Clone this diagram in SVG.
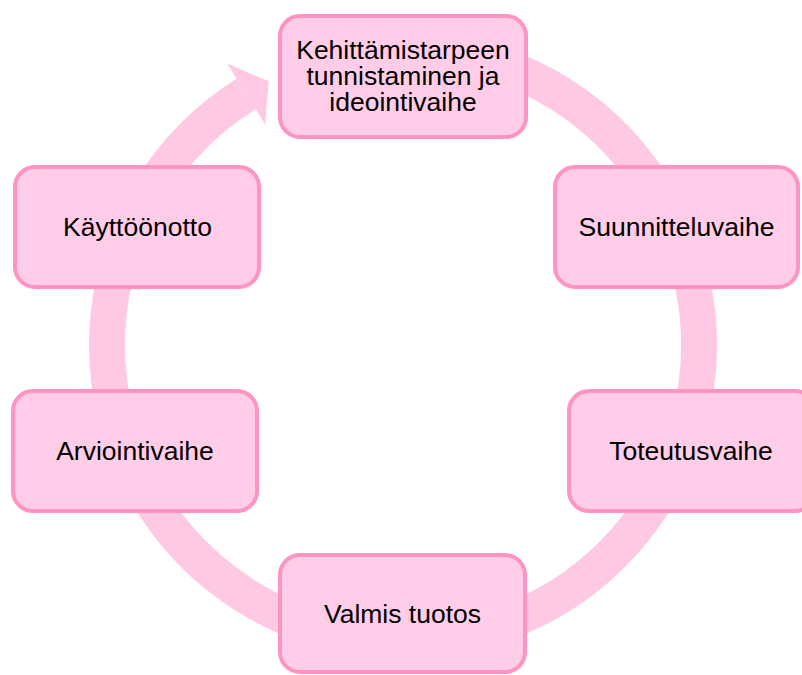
<svg xmlns="http://www.w3.org/2000/svg" width="802" height="675" viewBox="0 0 802 675">
<style>
.node rect{fill:#ffcde7;stroke:#ff93c2;stroke-width:4}
.node text{font-family:"Liberation Sans",Arial,sans-serif;font-size:26.5px;fill:#000;text-anchor:middle}
.ring{fill:none;stroke:#ffc9e4;stroke-width:36}
.head{fill:#ffc9e4}
</style>
<rect width="802" height="675" fill="#fff"/>
<g id="connectors">
<path class="ring" d="M 377.2 50.1 A 296 296 0 1 1 246.1 94.0"/>
<polygon class="head" points="227.1,63.5 268.6,81.3 265.2,124.5"/>
</g>
<g id="node-kehittamistarpeen" class="node">
<rect x="280" y="16" width="246" height="121" rx="20"/>
<text x="403" y="59">Kehittämistarpeen</text>
<text x="403" y="85">tunnistaminen ja</text>
<text x="403" y="111">ideointivaihe</text>
</g>
<g id="node-suunnitteluvaihe" class="node">
<rect x="555" y="167" width="243" height="120" rx="20"/>
<text x="676.5" y="236">Suunnitteluvaihe</text>
</g>
<g id="node-toteutusvaihe" class="node">
<rect x="569" y="391" width="246" height="120" rx="20"/>
<text x="691" y="460">Toteutusvaihe</text>
</g>
<g id="node-valmis-tuotos" class="node">
<rect x="280" y="555" width="245" height="117" rx="20"/>
<text x="402.5" y="623">Valmis tuotos</text>
</g>
<g id="node-arviointivaihe" class="node">
<rect x="13" y="391" width="244" height="120" rx="20"/>
<text x="135" y="460">Arviointivaihe</text>
</g>
<g id="node-kayttoonotto" class="node">
<rect x="15" y="167" width="244" height="120" rx="20"/>
<text x="137.5" y="236">Käyttöönotto</text>
</g>
</svg>
